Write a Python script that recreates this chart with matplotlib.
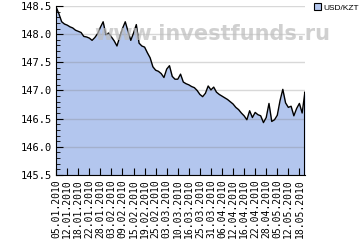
import matplotlib
matplotlib.use("Agg")
import matplotlib.pyplot as plt
from matplotlib.patches import Patch
from matplotlib.ticker import MultipleLocator

# USD/KZT rate, trading days 05.01.2010 - 20.05.2010
rates = [
    148.48, 148.36, 148.22, 148.18, 148.16, 148.13, 148.11, 148.07, 148.05, 148.03,
    147.96, 147.95, 147.93, 147.89, 147.94, 148.01, 148.12, 148.22, 147.99, 148.02,
    147.95, 147.88, 147.79, 147.95, 148.10, 148.22, 148.05, 147.89, 148.02, 148.17,
    147.84, 147.79, 147.77, 147.67, 147.58, 147.42, 147.36, 147.34, 147.30, 147.23,
    147.38, 147.44, 147.25, 147.20, 147.20, 147.29, 147.15, 147.12, 147.10, 147.07,
    147.05, 147.00, 146.93, 146.89, 146.95, 147.08, 147.01, 147.06, 146.97, 146.93,
    146.90, 146.87, 146.84, 146.80, 146.76, 146.70, 146.66, 146.60, 146.55, 146.48,
    146.64, 146.52, 146.61, 146.57, 146.55, 146.43, 146.52, 146.77, 146.45, 146.48,
    146.56, 146.82, 147.02, 146.78, 146.70, 146.72, 146.55, 146.68, 146.77, 146.60,
    146.97,
]

# every 4th trading day is labelled
tick_labels = [
    "05.01.2010", "12.01.2010", "18.01.2010", "22.01.2010", "28.01.2010",
    "03.02.2010", "09.02.2010", "15.02.2010", "19.02.2010", "25.02.2010",
    "03.03.2010", "10.03.2010", "16.03.2010", "25.03.2010", "31.03.2010",
    "06.04.2010", "12.04.2010", "16.04.2010", "22.04.2010", "28.04.2010",
    "05.05.2010", "12.05.2010", "18.05.2010",
]

fill_color = "#b3c6ee"

fig = plt.figure(figsize=(3.6, 2.4), dpi=100)
ax = fig.add_axes([0.156, 0.271, 0.691, 0.704])

x = list(range(len(rates)))
ax.fill_between(x, rates, 145.5, color=fill_color, lw=0, zorder=1)
ax.plot(x, rates, color="black", lw=1.0, zorder=4)
ax.vlines(x[-1], 145.5, rates[-1], color="black", lw=1.5, zorder=4)

# watermark
fig.text(0.59, 0.835, "www.investfunds.ru", ha="center", va="baseline",
         fontsize=15, fontweight="bold", color="#bdbdbd", alpha=0.7,
         family="DejaVu Sans", zorder=3)

ax.set_xlim(0, len(rates) - 1)
ax.set_ylim(145.5, 148.5)
ax.yaxis.set_major_locator(MultipleLocator(0.5))
ax.yaxis.set_minor_locator(MultipleLocator(0.1))
ax.set_yticklabels([f"{v:.1f}" for v in ax.get_yticks()])
ax.set_xticks(range(0, 4 * len(tick_labels), 4))
ax.set_xticklabels(tick_labels, rotation=90, family="DejaVu Sans Mono", fontsize=7)
for lab in ax.get_yticklabels():
    lab.set_family("DejaVu Sans Mono")
    lab.set_fontsize(7.5)

ax.grid(axis="y", color="#808080", alpha=0.3, lw=1, zorder=2)
ax.set_axisbelow(False)
ax.tick_params(axis="both", which="both", direction="in", color="black")
ax.tick_params(axis="both", which="major", length=5, pad=3)
ax.tick_params(axis="y", which="minor", length=3)
ax.spines["top"].set_visible(False)
ax.spines["right"].set_visible(False)
ax.spines["left"].set_zorder(5)
ax.spines["bottom"].set_zorder(5)

fig.legend(handles=[Patch(facecolor=fill_color, edgecolor="black", lw=0.8, label="USD/KZT")],
           loc="upper left", bbox_to_anchor=(0.855, 1.01), frameon=False,
           prop={"family": "Liberation Sans", "size": 6},
           handlelength=0.9, handleheight=0.9, handletextpad=0.3,
           borderpad=0.2)

fig.savefig("out.png", dpi=100)
